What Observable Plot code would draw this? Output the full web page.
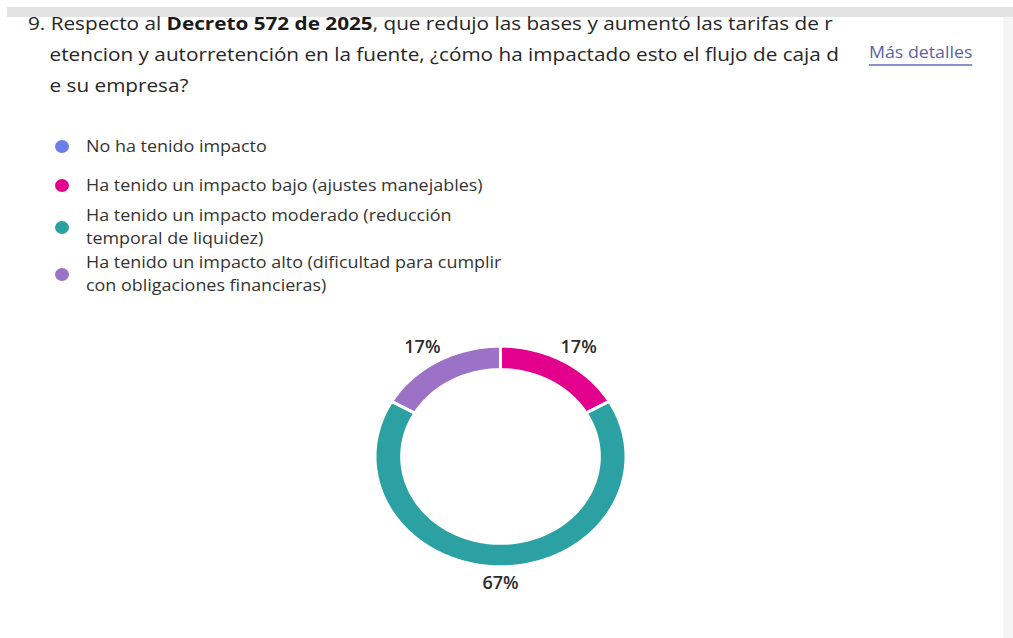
<!DOCTYPE html>
<html>
<head>
<meta charset="utf-8">
<script src="https://cdn.jsdelivr.net/npm/d3@7"></script>
<script src="https://cdn.jsdelivr.net/npm/@observablehq/plot@0.6"></script>
<style>
  html, body { margin: 0; padding: 0; background: #fff; }
  body { width: 1013px; height: 638px; position: relative; overflow: hidden; font-family: "Open Sans", "Noto Sans", sans-serif; color: #303030; }
  .topband { position: absolute; left: 7px; top: 7px; right: 0; height: 10px; background: #e3e3e3; }
  .rightband { position: absolute; right: 0; top: 17px; width: 10px; bottom: 0; background: #f5f5f5; }
  .title { position: absolute; left: 28px; top: 7px; font-size: 18.5px; line-height: 31px; white-space: pre; color: #262626; transform: scaleX(1.12); transform-origin: 0 0; }
  .title b { font-weight: 700; color: #1a1a1a; }
  .more { position: absolute; left: 869px; top: 41px; font-size: 16px; line-height: 22px; color: #5b5fa8; border-bottom: 2px solid #8f90c9; padding-bottom: 1px; transform: scaleX(1.11); transform-origin: 0 0; }
  .legend-item { position: absolute; left: 55px; font-size: 16px; line-height: 23px; color: #333; }
  .legend-item .dot { position: absolute; left: 0; width: 14px; height: 13px; border-radius: 50%; }
  .legend-item .txt { position: absolute; left: 31px; white-space: nowrap; transform: scaleX(1.12); transform-origin: 0 0; }
  #chart { position: absolute; left: 0; top: 310px; }
</style>
</head>
<body>
<div class="topband"></div>
<div class="rightband"></div>
<div class="title" id="title"></div>
<div class="more">Más detalles</div>
<div id="legend"></div>
<div id="chart"></div>
<script>
const titleLines = [
  "9. Respecto al <b>Decreto 572 de 2025</b>, que redujo las bases y aumentó las tarifas de r",
  "    etencion y autorretención en la fuente, ¿cómo ha impactado esto el flujo de caja d",
  "    e su empresa?"
];
const categories = [
  "No ha tenido impacto",
  "Ha tenido un impacto bajo (ajustes manejables)",
  "Ha tenido un impacto moderado (reducción temporal de liquidez)",
  "Ha tenido un impacto alto (dificultad para cumplir con obligaciones financieras)"
];
const legendLines = [
  ["No ha tenido impacto"],
  ["Ha tenido un impacto bajo (ajustes manejables)"],
  ["Ha tenido un impacto moderado (reducción", "temporal de liquidez)"],
  ["Ha tenido un impacto alto (dificultad para cumplir", "con obligaciones financieras)"]
];
const counts = [0, 1, 4, 1];
const colors = ["#6b7de6", "#e3008c", "#2ca1a3", "#9b72c6"];

// title
document.getElementById("title").innerHTML = titleLines.join("\n");

// legend
const legendTops = [135, 174, 204, 251];
const legend = document.getElementById("legend");
legendLines.forEach((lines, i) => {
  const item = document.createElement("div");
  item.className = "legend-item";
  item.style.top = legendTops[i] + "px";
  const h = lines.length * 23;
  const dot = document.createElement("div");
  dot.className = "dot";
  dot.style.background = colors[i];
  dot.style.top = (h / 2 - 6.5) + "px";
  const txt = document.createElement("div");
  txt.className = "txt";
  txt.innerHTML = lines.join("<br>");
  item.appendChild(dot);
  item.appendChild(txt);
  legend.appendChild(item);
});

// donut geometry from data
const total = d3.sum(counts);
const data = categories.map((c, i) => ({cat: c, value: counts[i]}));
const arcs = d3.pie().sort(null).value(d => d.value)(data).filter(a => a.data.value > 0);
const rOut = 1.012, rIn = 0.797;
const pts = [];
for (const a of arcs) {
  const n = Math.max(2, Math.ceil((a.endAngle - a.startAngle) / (Math.PI / 180)));
  const ring = [];
  for (let k = 0; k <= n; k++) {
    const t = a.startAngle + (a.endAngle - a.startAngle) * k / n;
    ring.push({cat: a.data.cat, x: rOut * Math.sin(t), y: rOut * Math.cos(t)});
  }
  for (let k = n; k >= 0; k--) {
    const t = a.startAngle + (a.endAngle - a.startAngle) * k / n;
    ring.push({cat: a.data.cat, x: rIn * Math.sin(t), y: rIn * Math.cos(t)});
  }
  ring.push(ring[0]);
  pts.push(...ring);
}
const labels = arcs.map(a => {
  const m = (a.startAngle + a.endAngle) / 2;
  const s = Math.sin(m);
  return {
    label: Math.round(100 * a.data.value / total) + "%",
    x: 1.16 * s + 0.05 * Math.sign(Math.round(s * 1000)),
    y: 1.16 * Math.cos(m)
  };
});

const plot = Plot.plot({
  width: 1013,
  height: 300,
  margin: 0,
  style: {background: "transparent", overflow: "visible"},
  x: {domain: [-1, 1], range: [376, 624], axis: null},
  y: {domain: [-1, 1], range: [255, 37], axis: null},
  color: {domain: categories, range: colors},
  marks: [
    Plot.line(pts, {x: "x", y: "y", z: "cat", fill: "cat", stroke: "white", strokeWidth: 3, curve: "linear"}),
    Plot.text(labels, {x: "x", y: "y", text: "label", fontSize: 18, fontWeight: 600, fill: "#2b2b2b", fontFamily: "Open Sans"})
  ]
});
document.getElementById("chart").appendChild(plot);
</script>
</body>
</html>
